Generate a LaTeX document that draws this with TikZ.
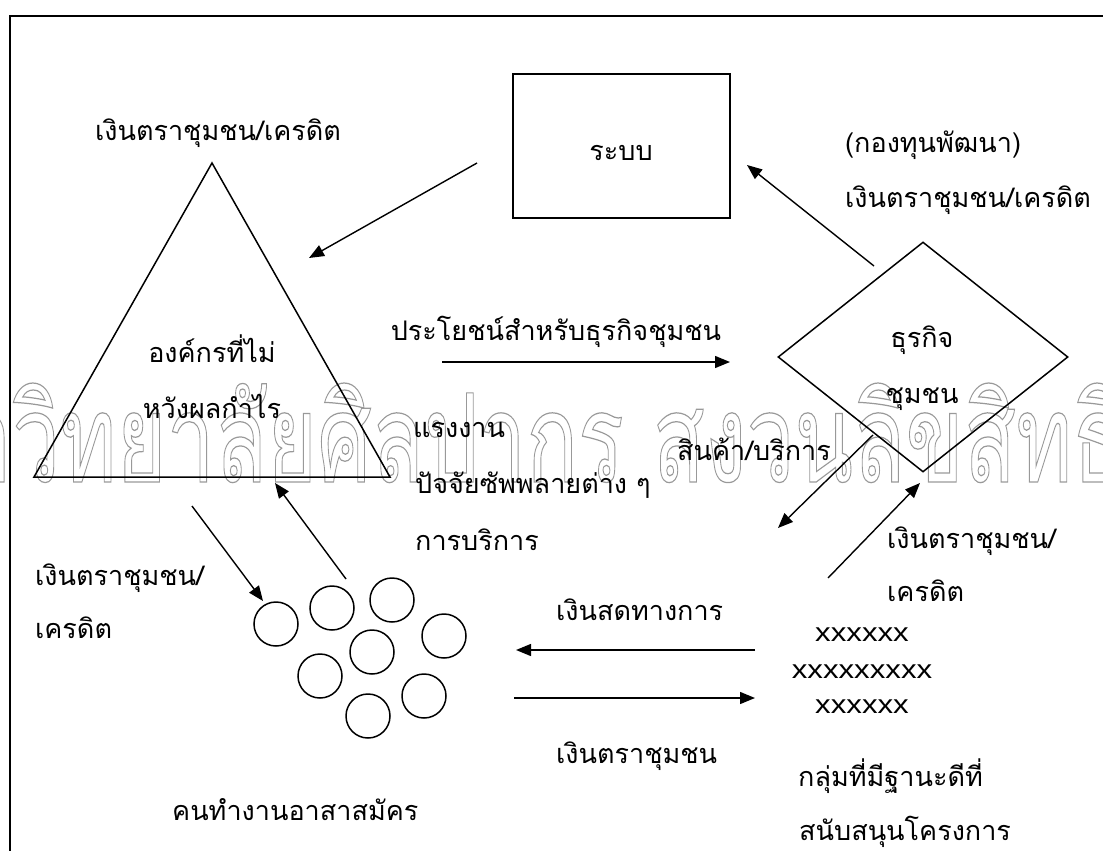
\documentclass[tikz,border=0pt]{standalone}
\usepackage{fontspec}
\usepackage{graphicx}
\newfontfamily\thaifont[Script=Thai]{Loma}
\newfontfamily\latinsans{Liberation Sans}
\usetikzlibrary{arrows.meta,shapes.geometric}
\tikzset{
  lbl/.style={inner sep=0pt, font=\thaifont\fontsize{27}{30}\selectfont, anchor=base west},
  lblc/.style={lbl, anchor=base},
  xlbl/.style={inner sep=0pt, font=\latinsans\fontsize{26}{30}\selectfont, anchor=base},
  arr/.style={line width=1.4pt, -{Triangle[length=15pt,width=12pt]}},
  shp/.style={draw, line width=1.5pt},
  person/.style={draw, circle, line width=1.5pt, minimum size=44pt, inner sep=0pt},
}
\begin{document}
\begin{tikzpicture}[x=1pt,y=-1pt]
\useasboundingbox (0,0) rectangle (1103,851);
% watermark
\node[inner sep=0pt, anchor=base west, text=black!40] (wm) at (12,482)
  {\resizebox{1060pt}{99pt}{\thaifont\fontsize{60}{60}\selectfont\special{pdf:literal direct 1 Tr 0.6 w}\llap{\smash{มหา}}วิทยาลัยศิลปากร สงวนลิขสิท\rlap{\smash{ธิ์}}\special{pdf:literal direct 0 Tr}}};
% frame
\draw[line width=2pt] (10,851) -- (10,16) -- (1103,16);
% shapes
\node[shp, minimum width=217pt, minimum height=144pt, inner sep=0pt] (sys) at (621.5,146) {};
\node[lblc] (systext) at (621,160) {ระบบ};
\coordinate (tA) at (212,163);
\coordinate (tL) at (34,477);
\coordinate (tR) at (390,477);
\draw[line width=1.5pt, line join=miter] (tL) -- (tA) -- (tR) -- cycle;
\node[lblc] (org1) at (212,362) {องค์กรที่ไม่};
\node[lblc] (org2) at (212,418) {หวังผลกำไร};
\node[shp, diamond, minimum width=290pt, minimum height=230pt, inner sep=0pt] (biz) at (923,357) {};
\node[lblc] (biz1) at (922,347) {ธุรกิจ};
\node[lblc] (biz2) at (922,403) {ชุมชน};
% people
\node[person] (p1) at (276,624) {};
\node[person] (p2) at (332,608) {};
\node[person] (p3) at (392,600) {};
\node[person] (p4) at (444,636) {};
\node[person] (p5) at (372,652) {};
\node[person] (p6) at (320,676) {};
\node[person] (p7) at (424,696) {};
\node[person] (p8) at (368,716) {};
% connector end points
\coordinate (a1s) at (477,163); \coordinate (a1e) at (309,258);
\coordinate (a2s) at (874,266); \coordinate (a2e) at (747,165);
\coordinate (a3s) at (442,362); \coordinate (a3e) at (730,362);
\coordinate (a4s) at (873,435); \coordinate (a4e) at (778,528);
\coordinate (a5s) at (828,578); \coordinate (a5e) at (920,483);
\coordinate (a6s) at (755,650); \coordinate (a6e) at (516,650);
\coordinate (a7s) at (514,698); \coordinate (a7e) at (755,698);
\coordinate (a8s) at (192,506); \coordinate (a8e) at (263,601);
\coordinate (a9s) at (346,579); \coordinate (a9e) at (275,483);
\draw[arr] (a1s) -- (a1e);
\draw[arr] (a2s) -- (a2e);
\draw[arr] (a3s) -- (a3e);
\draw[arr] (a4s) -- (a4e);
\draw[arr] (a5s) -- (a5e);
\draw[arr] (a6s) -- (a6e);
\draw[arr] (a7s) -- (a7e);
\draw[arr] (a8s) -- (a8e);
\draw[arr] (a9s) -- (a9e);
% labels
\node[lblc] (l1) at (218,140) {เงินตราชุมชน/เครดิต};
\node[lbl] (l2) at (845,152) {(กองทุนพัฒนา)};
\node[lbl] (l3) at (845,207) {เงินตราชุมชน/เครดิต};
\node[lblc] (l4) at (556,340) {ประโยชน์สำหรับธุรกิจชุมชน};
\node[lbl] (l5) at (413,437) {แรงงาน};
\node[lbl] (l6) at (415,493) {ปัจจัยซัพพลายต่าง ๆ};
\node[lbl] (l7) at (415,550) {การบริการ};
\node[lbl] (l8) at (677,460) {สินค้า/บริการ};
\node[lbl] (l9) at (887,548) {เงินตราชุมชน/};
\node[lbl] (l10) at (887,601) {เครดิต};
\node[xlbl] (x1) at (862,641) {\scalebox{1.2}[1]{xxxxxx}};
\node[xlbl] (x2) at (862,678) {\scalebox{1.2}[1]{xxxxxxxxx}};
\node[xlbl] (x3) at (862,713) {\scalebox{1.2}[1]{xxxxxx}};
\node[lbl] (l12) at (798,786) {กลุ่มที่มีฐานะดีที่};
\node[lbl] (l13) at (799,840) {สนับสนุนโครงการ};
\node[lbl] (l14) at (35,585) {เงินตราชุมชน/};
\node[lbl] (l15) at (35,638) {เครดิต};
\node[lbl] (l16) at (556,620) {เงินสดทางการ};
\node[lbl] (l17) at (556,763) {เงินตราชุมชน};
\node[lbl] (l18) at (172,820) {คนทำงานอาสาสมัคร};
\end{tikzpicture}
\end{document}
